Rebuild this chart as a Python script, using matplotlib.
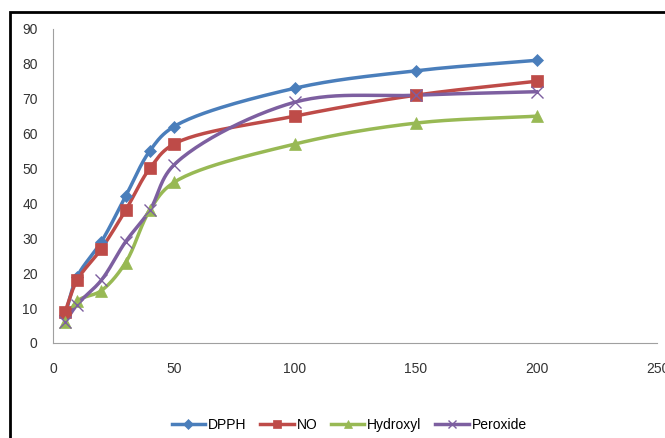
import matplotlib.pyplot as plt
import matplotlib.patches as patches
import numpy as np

plt.rcParams['font.family'] = ['Liberation Sans Narrow', 'Liberation Sans', 'DejaVu Sans']

# Data
conc = [5, 10, 20, 30, 40, 50, 100, 150, 200]
dpph = [8, 19, 29, 42, 55, 62, 73, 78, 81]
no = [9, 18, 27, 38, 50, 57, 65, 71, 75]
hydroxyl = [6, 12, 15, 23, 38, 46, 57, 63, 65]
peroxide = [6, 11, 18, 29, 38, 51, 69, 71, 72]

# approximate screen scale (px per data unit) so the curve bends like on screen
SX, SY = 2.42, 3.49


def smooth(x, y, n=30, alpha=0.5):
    # centripetal Catmull-Rom through the points (smoothed line)
    P = np.column_stack([np.asarray(x, float) * SX, np.asarray(y, float) * SY])
    P = np.vstack([2 * P[0] - P[1], P, 2 * P[-1] - P[-2]])
    out = []
    for i in range(1, len(P) - 2):
        p0, p1, p2, p3 = P[i - 1], P[i], P[i + 1], P[i + 2]
        t0 = 0.0
        t1 = t0 + np.linalg.norm(p1 - p0) ** alpha
        t2 = t1 + np.linalg.norm(p2 - p1) ** alpha
        t3 = t2 + np.linalg.norm(p3 - p2) ** alpha
        t = np.linspace(t1, t2, n)[:, None]
        a1 = (t1 - t) / (t1 - t0) * p0 + (t - t0) / (t1 - t0) * p1
        a2 = (t2 - t) / (t2 - t1) * p1 + (t - t1) / (t2 - t1) * p2
        a3 = (t3 - t) / (t3 - t2) * p2 + (t - t2) / (t3 - t2) * p3
        b1 = (t2 - t) / (t2 - t0) * a1 + (t - t0) / (t2 - t0) * a2
        b2 = (t3 - t) / (t3 - t1) * a2 + (t - t1) / (t3 - t1) * a3
        c = (t2 - t) / (t2 - t1) * b1 + (t - t1) / (t2 - t1) * b2
        out.append(c)
    out = np.vstack(out)
    return out[:, 0] / SX, out[:, 1] / SY


fig = plt.figure(figsize=(6.65, 4.38), dpi=100)
ax = fig.add_axes([0.0797, 0.217, 0.909, 0.717])

series = [
    ('DPPH', dpph, '#4A7EBB', 'D', 6.5),
    ('NO', no, '#BE4B48', 's', 8),
    ('Hydroxyl', hydroxyl, '#98B954', '^', 8),
    ('Peroxide', peroxide, '#7D5FA0', 'x', 8),
]
for label, vals, col, mk, ms in series:
    sx, sy = smooth(conc, vals)
    ax.plot(sx, sy, color=col, linewidth=2.5, zorder=2)
    ax.plot(conc, vals, linestyle='none', marker=mk, color=col, markersize=ms,
            markeredgewidth=1.0 if mk == 'x' else 0.5, zorder=3)
    ax.plot([], [], color=col, linewidth=2.5, marker=mk, markersize=ms * 0.8,
            markeredgewidth=1.0 if mk == 'x' else 0.5, label=label)

ax.set_xlim(0, 250)
ax.set_ylim(0, 90)
ax.set_xticks(np.arange(0, 251, 50))
ax.set_yticks(np.arange(0, 91, 10))
for side in ('top', 'right'):
    ax.spines[side].set_visible(False)
for side in ('left', 'bottom'):
    ax.spines[side].set_color('#A0A0A0')
ax.tick_params(length=0, labelsize=10, colors='#333333')
ax.tick_params(axis='x', pad=14)
ax.tick_params(axis='y', pad=11)

ax.legend(loc='upper center', bbox_to_anchor=(0.49, -0.2), ncol=4, frameon=False,
          fontsize=10, handlelength=2.4, handletextpad=0.2, columnspacing=1.0)

# outer chart border
fig.patches.append(patches.Rectangle((10 / 665, -0.1), 1.2, (438 - 12) / 438 + 0.1,
                                     transform=fig.transFigure, fill=False,
                                     edgecolor='black', linewidth=2))

fig.savefig('out.png', dpi=100)
